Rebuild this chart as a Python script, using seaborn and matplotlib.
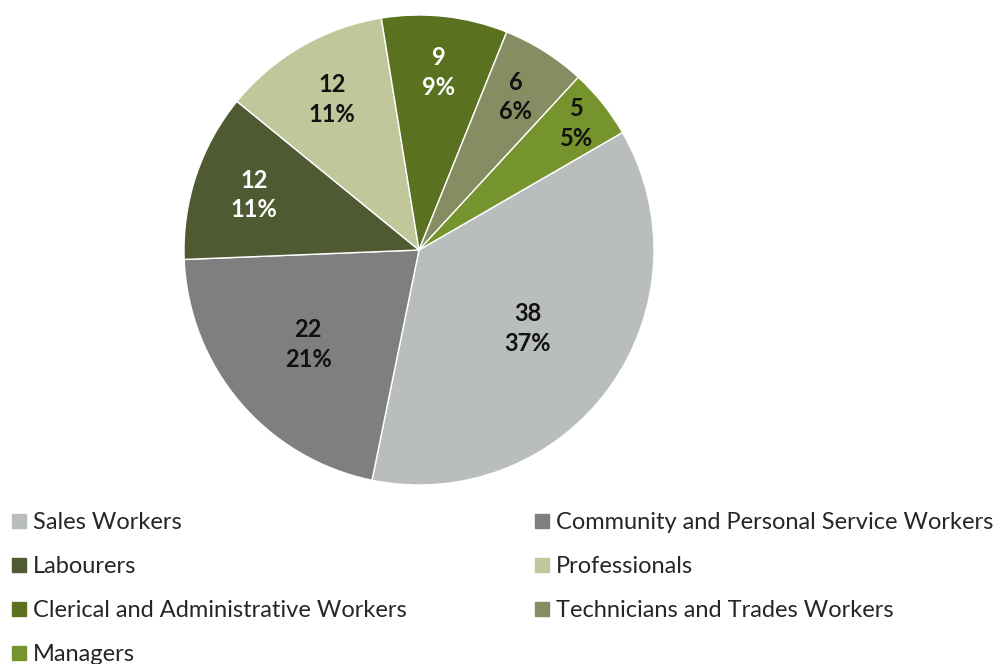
import numpy as np
import matplotlib
matplotlib.use("Agg")
import matplotlib.pyplot as plt
from matplotlib.lines import Line2D
import seaborn as sns

# Occupation counts and their displayed shares
categories = [
    "Sales Workers",
    "Community and Personal Service Workers",
    "Labourers",
    "Professionals",
    "Clerical and Administrative Workers",
    "Technicians and Trades Workers",
    "Managers",
]
counts = [38, 22, 12, 12, 9, 6, 5]
share_labels = ["37%", "21%", "11%", "11%", "9%", "6%", "5%"]

colors = ["#BABDBE", "#7F7F80", "#4F5A33", "#C0C79B", "#5A7220", "#878D63", "#76942E"]
text_colors = ["#111111", "#111111", "white", "#111111", "white", "#111111", "#111111"]
label_radius = [0.57, 0.62, 0.74, 0.74, 0.76, 0.77, 0.86]

sns.set_theme(style="white")
plt.rcParams["font.family"] = ["Lato", "DejaVu Sans"]

W, H = 997, 664
fig = plt.figure(figsize=(W / 100, H / 100), dpi=100)
fig.patch.set_facecolor("white")

# Pie axes: centre (419, 250) px, radius 235 px
cx, cy, r = 419, 250, 235
ax = fig.add_axes([(cx - r) / W, (H - cy - r) / H, 2 * r / W, 2 * r / H])
wedges, _ = ax.pie(
    counts,
    colors=colors,
    startangle=30,
    counterclock=False,
    wedgeprops=dict(edgecolor="white", linewidth=1.0),
)
ax.set_xlim(-1, 1)
ax.set_ylim(-1, 1)
ax.set_aspect("equal")
ax.axis("off")

for w, n, pct, tc, rad in zip(wedges, counts, share_labels, text_colors, label_radius):
    mid = np.deg2rad((w.theta1 + w.theta2) / 2)
    ax.text(rad * np.cos(mid), rad * np.sin(mid), f"{n}\n{pct}",
            ha="center", va="center", fontsize=17, fontweight="bold",
            color=tc, linespacing=1.36)

def handle(c):
    return Line2D([], [], marker="s", linestyle="none", markersize=9.5,
                  markerfacecolor=c, markeredgecolor=c)

legend_kw = dict(frameon=False, fontsize=17, handletextpad=0.32,
                 labelspacing=0.98, handlelength=0.6, borderaxespad=0,
                 borderpad=0, loc="upper left")

left_idx = [0, 2, 4, 6]
right_idx = [1, 3, 5]
fig.legend([handle(colors[i]) for i in left_idx], [categories[i] for i in left_idx],
           bbox_to_anchor=(11.5 / W, 1 - 512 / H), **legend_kw)
fig.legend([handle(colors[i]) for i in right_idx], [categories[i] for i in right_idx],
           bbox_to_anchor=(534.5 / W, 1 - 512 / H), **legend_kw)

fig.savefig("out.png", dpi=100, facecolor="white")
